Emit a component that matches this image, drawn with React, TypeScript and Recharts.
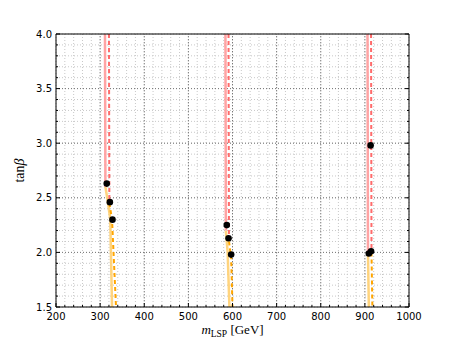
import React from 'react';
import { ComposedChart, Line, Scatter, XAxis, YAxis, CartesianGrid, ReferenceLine } from 'recharts';

// ---- data ----
const xMajorTicks = [200, 300, 400, 500, 600, 700, 800, 900, 1000];
const yMajorTicks = [1.5, 2.0, 2.5, 3.0, 3.5, 4.0];

const redSolid1 = [{ x: 311, y: 4.0 }, { x: 312, y: 2.6 }];
const redDashed1 = [{ x: 320, y: 4.0 }, { x: 321, y: 2.45 }];
const orangeSolid1 = [{ x: 312, y: 2.6 }, { x: 318, y: 2.45 }, { x: 323, y: 2.3 }, { x: 327, y: 1.5 }];
const orangeDashed1 = [{ x: 321, y: 2.45 }, { x: 327, y: 2.3 }, { x: 336, y: 1.5 }];

const redSolid2 = [{ x: 584, y: 4.0 }, { x: 585, y: 2.2 }];
const redDashed2 = [{ x: 591, y: 4.0 }, { x: 592, y: 2.1 }];
const orangeSolid2 = [{ x: 585, y: 2.2 }, { x: 589, y: 2.0 }, { x: 593, y: 1.5 }];
const orangeDashed2 = [{ x: 592, y: 2.1 }, { x: 597, y: 1.95 }, { x: 600, y: 1.5 }];

const redSolid3 = [{ x: 906, y: 4.0 }, { x: 907, y: 2.0 }];
const redDashed3 = [{ x: 914, y: 4.0 }, { x: 915, y: 2.0 }];
const orangeSolid3 = [{ x: 907, y: 2.0 }, { x: 909, y: 1.5 }];
const orangeDashed3 = [{ x: 915, y: 2.0 }, { x: 917, y: 1.5 }];

const points = [
  { x: 315, y: 2.63 }, { x: 322, y: 2.46 }, { x: 328, y: 2.3 },
  { x: 587, y: 2.25 }, { x: 591, y: 2.13 }, { x: 597, y: 1.98 },
  { x: 909, y: 1.99 }, { x: 914, y: 2.01 }, { x: 913, y: 2.98 },
];

// minor tick positions (axis furniture)
const xMinorTicks: number[] = [];
for (let v = 200; v <= 1000; v += 20) xMinorTicks.push(v);
const yMinorTicks: number[] = [];
for (let i = 15; i <= 40; i++) yMinorTicks.push(i / 10);

const isMajorX = (v: number) => xMajorTicks.includes(v);
const isMajorY = (v: number) => yMajorTicks.some((m) => Math.abs(m - v) < 1e-6);

const redSolid = [redSolid1, redSolid2, redSolid3];
const redDashed = [redDashed1, redDashed2, redDashed3];
const orangeSolid = [orangeSolid1, orangeSolid2, orangeSolid3];
const orangeDashed = [orangeDashed1, orangeDashed2, orangeDashed3];

const TICK_FONT = 'DejaVu Sans';

const BottomTick = (props: any) => {
  const { x, y, payload } = props;
  const major = isMajorX(payload.value);
  return (
    <g>
      <line x1={x} x2={x} y1={y} y2={y - (major ? 4 : 2)} stroke="#000" strokeWidth={1} />
      {major && (
        <text x={x} y={y + 12.5} textAnchor="middle" fontFamily={TICK_FONT} fontSize={10} fill="#000">
          {payload.value}
        </text>
      )}
    </g>
  );
};

const TopTick = (props: any) => {
  const { x, y, payload } = props;
  const major = isMajorX(payload.value);
  return <line x1={x} x2={x} y1={y} y2={y + (major ? 4 : 2)} stroke="#000" strokeWidth={1} />;
};

const LeftTick = (props: any) => {
  const { x, y, payload } = props;
  const major = isMajorY(payload.value);
  return (
    <g>
      <line x1={x} x2={x + (major ? 4 : 2)} y1={y} y2={y} stroke="#000" strokeWidth={1} />
      {major && (
        <text x={x - 4} y={y + 3.5} textAnchor="end" fontFamily={TICK_FONT} fontSize={10} fill="#000">
          {payload.value.toFixed(1)}
        </text>
      )}
    </g>
  );
};

const RightTick = (props: any) => {
  const { x, y, payload } = props;
  const major = isMajorY(payload.value);
  return <line x1={x} x2={x - (major ? 4 : 2)} y1={y} y2={y} stroke="#000" strokeWidth={1} />;
};

const XLabel = (props: any) => {
  const vb = props.viewBox || {};
  const cx = vb.x + vb.width / 2;
  return (
    <text x={cx} y={334} textAnchor="middle" fontFamily="Liberation Serif" fontSize={13} fill="#000">
      <tspan fontStyle="italic">m</tspan>
      <tspan fontSize={9.5} dy={3}>LSP</tspan>
      <tspan dy={-3}> [GeV]</tspan>
    </text>
  );
};

const YLabel = (props: any) => {
  const vb = props.viewBox || {};
  const cy = vb.y + vb.height / 2;
  return (
    <text
      x={24}
      y={cy}
      transform={`rotate(-90 24 ${cy})`}
      textAnchor="middle"
      fontFamily="Liberation Serif"
      fontSize={14}
      fill="#000"
    >
      tan<tspan fontStyle="italic">β</tspan>
    </text>
  );
};

const Dot = (p: any) => <circle cx={p.cx} cy={p.cy} r={3.3} fill="#000" />;

export default function App() {
  return (
    <div style={{ position: 'absolute', left: 0, top: 0, width: 454, height: 341, background: '#fff' }}>
      <ComposedChart width={454} height={341} margin={{ top: 0, right: 0, bottom: 0, left: 0 }}>
        <XAxis
          xAxisId={0}
          dataKey="x"
          type="number"
          domain={[200, 1000]}
          allowDataOverflow
          ticks={xMinorTicks}
          interval={0}
          tickSize={0}
          tickMargin={0}
          tickLine={false}
          tick={<BottomTick />}
          height={34}
          axisLine={{ stroke: '#000', strokeWidth: 1 }}
          label={<XLabel />}
        />
        <XAxis
          xAxisId="top"
          orientation="top"
          type="number"
          domain={[200, 1000]}
          allowDataOverflow
          ticks={xMinorTicks}
          interval={0}
          tickSize={0}
          tickMargin={0}
          tickLine={false}
          tick={<TopTick />}
          height={34}
          axisLine={{ stroke: '#000', strokeWidth: 1 }}
        />
        <YAxis
          yAxisId={0}
          dataKey="y"
          type="number"
          domain={[1.5, 4.0]}
          allowDataOverflow
          ticks={yMinorTicks}
          interval={0}
          tickSize={0}
          tickMargin={0}
          tickLine={false}
          tick={<LeftTick />}
          width={56}
          axisLine={{ stroke: '#000', strokeWidth: 1 }}
          label={<YLabel />}
        />
        <YAxis
          yAxisId="right"
          orientation="right"
          type="number"
          domain={[1.5, 4.0]}
          allowDataOverflow
          ticks={yMinorTicks}
          interval={0}
          tickSize={0}
          tickMargin={0}
          tickLine={false}
          tick={<RightTick />}
          width={45}
          axisLine={{ stroke: '#000', strokeWidth: 1 }}
        />
        <CartesianGrid stroke="#c8c8c8" strokeDasharray="1 2" />
        {xMajorTicks.slice(1, -1).map((v) => (
          <ReferenceLine key={'vx' + v} x={v} stroke="#777" strokeDasharray="1 2" strokeWidth={1} />
        ))}
        {yMajorTicks.slice(1, -1).map((v) => (
          <ReferenceLine key={'hy' + v} y={v} stroke="#777" strokeDasharray="1 2" strokeWidth={1} />
        ))}
        {orangeSolid.map((d, i) => (
          <Line key={'os' + i} data={d} dataKey="y" stroke="#ffcf70" strokeOpacity={0.9} strokeWidth={2.5}
            dot={false} activeDot={false} isAnimationActive={false} />
        ))}
        {orangeDashed.map((d, i) => (
          <Line key={'od' + i} data={d} dataKey="y" stroke="#ffa500" strokeWidth={2} strokeDasharray="4 3"
            dot={false} activeDot={false} isAnimationActive={false} />
        ))}
        {redSolid.map((d, i) => (
          <Line key={'rs' + i} data={d} dataKey="y" stroke="#ff9a9a" strokeOpacity={0.9} strokeWidth={2.5}
            dot={false} activeDot={false} isAnimationActive={false} />
        ))}
        {redDashed.map((d, i) => (
          <Line key={'rd' + i} data={d} dataKey="y" stroke="#ff6b6b" strokeWidth={2} strokeDasharray="4 3"
            dot={false} activeDot={false} isAnimationActive={false} />
        ))}
        <Scatter data={points} dataKey="y" shape={<Dot />} isAnimationActive={false} />
      </ComposedChart>
    </div>
  );
}
